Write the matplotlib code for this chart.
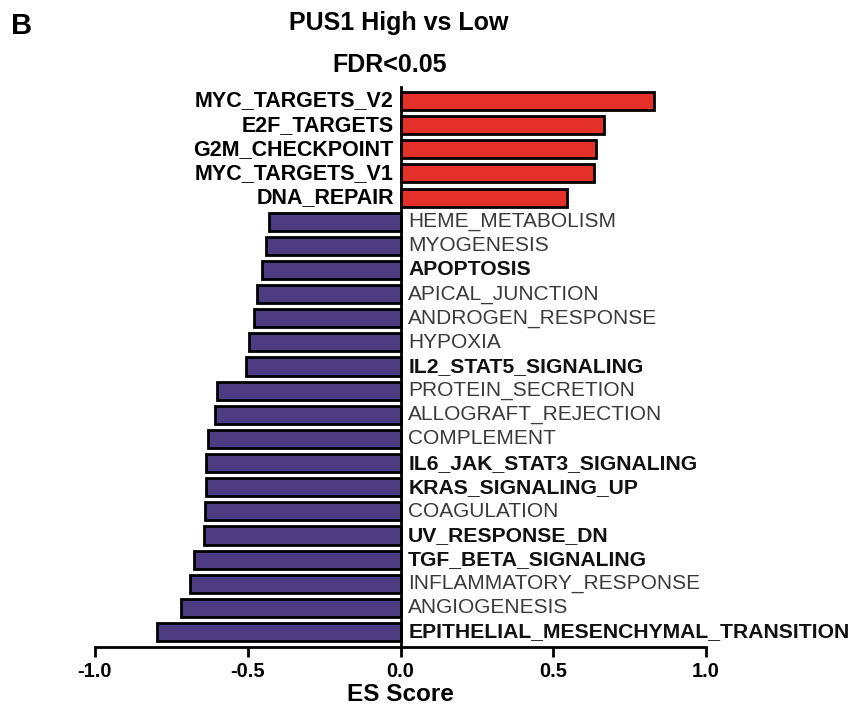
import matplotlib
matplotlib.use('Agg')
import matplotlib.pyplot as plt

# gene sets and ES scores, top to bottom
pathways = ['MYC_TARGETS_V2', 'E2F_TARGETS', 'G2M_CHECKPOINT', 'MYC_TARGETS_V1', 'DNA_REPAIR',
            'HEME_METABOLISM', 'MYOGENESIS', 'APOPTOSIS', 'APICAL_JUNCTION', 'ANDROGEN_RESPONSE',
            'HYPOXIA', 'IL2_STAT5_SIGNALING', 'PROTEIN_SECRETION', 'ALLOGRAFT_REJECTION',
            'COMPLEMENT', 'IL6_JAK_STAT3_SIGNALING', 'KRAS_SIGNALING_UP', 'COAGULATION',
            'UV_RESPONSE_DN', 'TGF_BETA_SIGNALING', 'INFLAMMATORY_RESPONSE', 'ANGIOGENESIS',
            'EPITHELIAL_MESENCHYMAL_TRANSITION']
es_score = [0.83, 0.667, 0.64, 0.634, 0.546,
            -0.43, -0.44, -0.454, -0.47, -0.48,
            -0.497, -0.506, -0.60, -0.608,
            -0.63, -0.638, -0.638, -0.64,
            -0.643, -0.677, -0.69, -0.72,
            -0.797]
bold_names = ['APOPTOSIS', 'IL2_STAT5_SIGNALING', 'IL6_JAK_STAT3_SIGNALING', 'KRAS_SIGNALING_UP',
              'UV_RESPONSE_DN', 'TGF_BETA_SIGNALING', 'EPITHELIAL_MESENCHYMAL_TRANSITION']
xticks = [-1.0, -0.5, 0.0, 0.5, 1.0]

fonts = ['Liberation Sans', 'DejaVu Sans']

red = '#E5302A'
purple = '#4E3C82'

fig = plt.figure(figsize=(8.55, 7.09), dpi=100)
ax = fig.add_axes([95 / 855, 1 - 647 / 709, 611 / 855, (647 - 87) / 709])

y = list(range(len(pathways)))
colors = [red if v > 0 else purple for v in es_score]
ax.barh(y, es_score, height=0.75, color=colors, edgecolor='black', linewidth=2)

ax.set_xlim(-1, 1)
ax.set_ylim(22.62, -0.58)

for i in range(len(pathways)):
    name = pathways[i]
    if es_score[i] > 0:
        ax.text(-0.022, i, name, ha='right', va='center', fontsize=15.5,
                fontweight='bold', family=fonts, color='black')
    elif name in bold_names:
        ax.text(0.025, i, name, ha='left', va='center', fontsize=15.2,
                fontweight='bold', family=fonts, color='#111111')
    else:
        ax.text(0.025, i, name, ha='left', va='center', fontsize=15,
                family=fonts, color='#3a3a3a')

ax.spines['top'].set_visible(False)
ax.spines['right'].set_visible(False)
ax.spines['left'].set_position(('data', 0))
ax.spines['left'].set_linewidth(2)
ax.spines['bottom'].set_linewidth(2)
ax.set_yticks([])
ax.set_xticks(xticks)
ax.set_xticklabels(['%.1f' % t for t in xticks], fontsize=14.5, fontweight='bold', family=fonts)
ax.tick_params(axis='x', length=7, width=2, pad=4)
ax.set_xlabel('ES Score', fontsize=17.5, fontweight='bold', family=fonts, labelpad=1)

fig.text(399 / 855, 1 - 23 / 709, 'PUS1 High vs Low', ha='center', va='center',
         fontsize=18, fontweight='bold', family=fonts)
fig.text(390 / 855, 1 - 65 / 709, 'FDR<0.05', ha='center', va='center',
         fontsize=18, fontweight='bold', family=fonts)
fig.text(22 / 855, 1 - 26 / 709, 'B', ha='center', va='center',
         fontsize=21, fontweight='bold', family=fonts)

fig.savefig('out.png', dpi=100)
